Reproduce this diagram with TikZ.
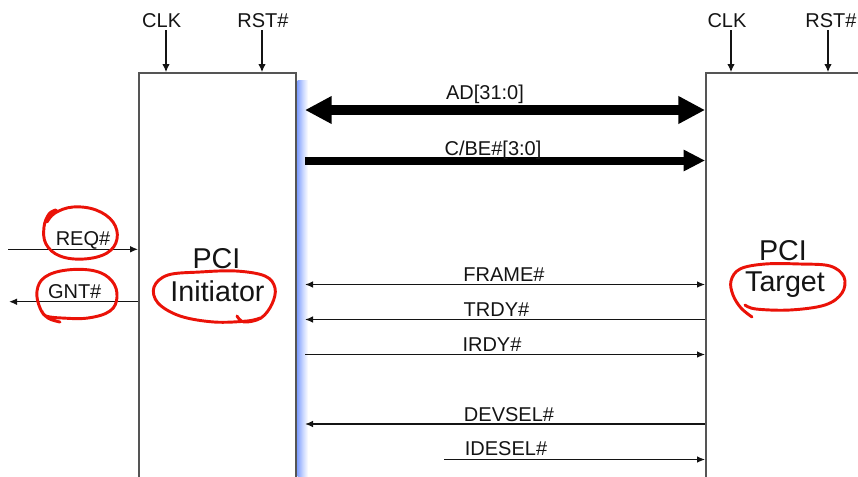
\documentclass[tikz,border=0pt]{standalone}
\usepackage{fontspec}
\setmainfont{Liberation Sans}
\usetikzlibrary{arrows.meta}
\definecolor{boxgray}{HTML}{555555}
\definecolor{ink}{HTML}{141414}
\definecolor{shadowblue}{HTML}{86A4FF}
\definecolor{penred}{HTML}{EA1208}
\begin{document}
\begin{tikzpicture}[x=0.75pt,y=-0.75pt,
  blockbox/.style={draw=boxgray,line width=1.4pt,minimum width=#1,minimum height=327.75pt,inner sep=0pt},
  sig/.style={font=\fontsize{15}{18}\selectfont,text=ink,inner sep=0pt,anchor=base},
  title/.style={font=\fontsize{21.5}{25}\selectfont,text=ink,inner sep=0pt,anchor=base},
  wire/.style={line width=1pt,draw=ink,arrows={-Latex[length=6pt,width=5pt]}},
  wireboth/.style={wire,arrows={Latex[length=6pt,width=5pt]-Latex[length=6pt,width=5pt]}},
  clkwire/.style={line width=0.8pt,draw=ink,arrows={-Latex[length=6pt,width=5.5pt]}},
  busboth/.style={line width=7pt,draw=black,arrows={Triangle[length=20pt,width=19.5pt]-Triangle[length=20pt,width=19.5pt]}},
  busone/.style={line width=6pt,draw=black,arrows={-Triangle[length=16pt,width=15pt]}},
  pen/.style={draw=penred,line width=2.2pt,line cap=round,line join=round}]

\useasboundingbox (0,0) rectangle (858,476);
\clip (0,0) rectangle (858,476);

% the two PCI agents
\node[blockbox=117.75pt] (ini) at (217.5,291.5) {};
\node[blockbox=145.5pt] (tgt) at (803,291.5) {};

% soft blue shadow along the initiator's right edge
\shade[left color=shadowblue,right color=white,middle color=shadowblue!45] (297.5,80) rectangle (308,476);

% agent titles
\node[title] (iniPCI) at (216.5,268) {PCI};
\node[title] (iniName) at (217.5,301.7) {Initiator};
\node[title] (tgtPCI) at (783,260) {PCI};
\node[title] (tgtName) at (785,291.7) {Target};

% clock and reset inputs
\node[sig] (iclk) at (161.7,27) {CLK};
\node[sig] (irst) at (263,27) {RST\#};
\node[sig] (tclk) at (727,27) {CLK};
\node[sig] (trst) at (831,27) {RST\#};
\coordinate (iclkT) at (166,30);
\coordinate (irstT) at (262,30);
\coordinate (tclkT) at (731,30);
\coordinate (trstT) at (828,30);
\draw[clkwire] (iclkT) -- (iclkT |- ini.north);
\draw[clkwire] (irstT) -- (irstT |- ini.north);
\draw[clkwire] (tclkT) -- (tclkT |- tgt.north);
\draw[clkwire] (trstT) -- (trstT |- tgt.north);

% bus signals between the agents
\coordinate (iedge) at (305,291.5);
\coordinate (yAD) at (0,110);
\coordinate (yCBE) at (0,160.5);
\coordinate (yFRAME) at (0,284.5);
\coordinate (yTRDY) at (0,319.5);
\coordinate (yIRDY) at (0,354.5);
\coordinate (yDEVSEL) at (0,424);
\coordinate (yIDSEL) at (0,459.5);
\coordinate (idselStart) at (444,459.5);

\draw[busboth] (iedge |- yAD) -- (tgt.west |- yAD);
\draw[busone] (iedge |- yCBE) -- (tgt.west |- yCBE);
\draw[wireboth] (iedge |- yFRAME) -- (tgt.west |- yFRAME);
\draw[wire] (tgt.west |- yTRDY) -- (iedge |- yTRDY);
\draw[wire] (iedge |- yIRDY) -- (tgt.west |- yIRDY);
\draw[wire] (tgt.west |- yDEVSEL) -- (iedge |- yDEVSEL);
\draw[wire] (idselStart) -- (tgt.west |- yIDSEL);

\node[sig] (lAD) at (485,99) {AD[31:0]};
\node[sig] (lCBE) at (493,155) {C/BE\#[3:0]};
\node[sig] (lFRAME) at (504,281.7) {FRAME\#};
\node[sig] (lTRDY) at (496.5,316.7) {TRDY\#};
\node[sig] (lIRDY) at (492,351.7) {IRDY\#};
\node[sig] (lDEVSEL) at (509,421.7) {DEVSEL\#};
\node[sig] (lIDSEL) at (506,455) {IDESEL\#};

% arbitration signals
\coordinate (reqStart) at (8,249.3);
\coordinate (gntEnd) at (9,301.7);
\draw[wire] (reqStart) -- (ini.west |- reqStart);
\draw[wire] (ini.west |- gntEnd) -- (gntEnd);
\node[sig] (lREQ) at (83,245) {REQ\#};
\node[sig] (lGNT) at (74.7,298.3) {GNT\#};

% hand-drawn red marks
\draw[pen] plot[smooth,tension=0.65] coordinates {(56,210) (49,214) (44,227) (46,244) (60,256) (84,259) (107,253) (117,239) (113,222) (96,210) (73,207) (55,213) (47,222)};
\draw[pen] plot[smooth,tension=0.65] coordinates {(60,322) (48,318) (40,308) (37,291) (45,277) (67,270) (95,271) (112,281) (117,297) (110,311) (88,318) (62,318) (46,316) (42,311)};
\draw[pen] plot[smooth,tension=0.6] coordinates {(237,316) (244,322) (261,318) (272,304) (275,288) (265,276) (236,271) (200,272) (168,275) (154,287) (158,303) (180,316) (214,322) (247,321) (260,318)};
\draw[pen] plot[smooth,tension=0.6] coordinates {(752,317) (741,308) (733,295) (731,281) (740,269) (765,264) (800,264) (830,266) (844,277) (842,293) (825,305) (790,310) (756,309) (745,305)};
\end{tikzpicture}
\end{document}
